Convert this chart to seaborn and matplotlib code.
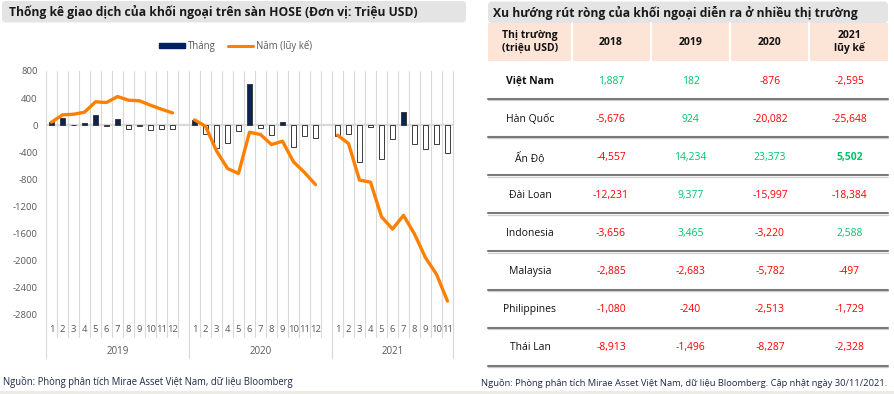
import numpy as np
import pandas as pd
import matplotlib
matplotlib.use("Agg")
import matplotlib.pyplot as plt
import matplotlib.transforms as mtransforms
from matplotlib.patches import Rectangle, FancyBboxPatch
from matplotlib.lines import Line2D
import seaborn as sns

# ---------------- data ----------------
years = ["2019", "2020", "2021"]
months_2019 = list(range(1, 13))
months_2020 = list(range(1, 13))
months_2021 = list(range(1, 12))
monthly_2019 = [50, 100, 8, 28, 155, -12, 88, -54, -12, -68, -59, -55]
monthly_2020 = [74, -128, -334, -260, -79, 609, -34, -147, 44, -319, -162, -182]
monthly_2021 = [-152, -132, -540, -29, -496, -196, 201, -275, -349, -270, -403]
cumul_2019 = [45, 153, 162, 192, 345, 335, 423, 369, 360, 295, 236, 182]
cumul_2020 = [79, -15, -378, -638, -712, -103, -137, -285, -236, -540, -697, -876]
cumul_2021 = [-147, -270, -810, -840, -1350, -1532, -1330, -1605, -1954, -2200, -2595]
yticks = list(range(-2800, 801, 400))

markets = ["Việt Nam", "Hàn Quốc", "Ấn Độ", "Đài Loan", "Indonesia",
           "Malaysia", "Philippines", "Thái Lan"]
val_2018 = [1887, -5676, -4557, -12231, -3656, -2885, -1080, -8913]
val_2019 = [182, 924, 14234, 9377, 3465, -2683, -240, -1496]
val_2020 = [-876, -20082, 23373, -15997, -3220, -5782, -2513, -8287]
val_2021 = [-2595, -25648, 5502, -18384, 2588, -497, -1729, -2328]
headers = ["Thị trường\n(triệu USD)", "2018", "2019", "2020", "2021\nlũy kế"]

# ---------------- style ----------------
sns.set_theme(style="white")
plt.rcParams["font.family"] = ["Open Sans", "DejaVu Sans"]

NAVY = "#002060"
ORANGE = "#ff7f00"
GRID = "#d9d9d9"
LBL = "#595959"
GREEN = "#00c26b"
RED = "#ff0000"

W, H = 895, 394
fig = plt.figure(figsize=(W / 100, H / 100), dpi=100)

# chart area in pixel terms
L, R, T, B = 46, 453, 71, 315
ax = fig.add_axes([L / W, 1 - B / H, (R - L) / W, (B - T) / H])

# build frame: one empty slot between years
rows = []
start = 0
for yr, mths, mv, cv in [("2019", months_2019, monthly_2019, cumul_2019),
                         ("2020", months_2020, monthly_2020, cumul_2020),
                         ("2021", months_2021, monthly_2021, cumul_2021)]:
    for i, (m, v, c) in enumerate(zip(mths, mv, cv)):
        rows.append(dict(pos=start + i, month=str(m), year=yr, monthly=v, cumul=c,
                         sign="pos" if v >= 0 else "neg"))
    start += len(mths) + 1
df = pd.DataFrame(rows)

sns.barplot(data=df, x="pos", y="monthly", hue="sign", native_scale=True,
            palette={"pos": NAVY, "neg": "white"}, dodge=False, width=0.38,
            edgecolor="#3a3a3a", linewidth=0.7, legend=False, ax=ax, zorder=3)
sns.lineplot(data=df, x="pos", y="cumul", units="year", estimator=None,
             color=ORANGE, lw=2.4, ax=ax, legend=False, zorder=4)

ax.set_xlim(-0.5, 36.5)
ax.set_ylim(-2800, 800)
ax.axhline(0, color=GRID, lw=1.6, zorder=1)
for s in ax.spines.values():
    s.set_visible(False)
ax.set_xlabel("")
ax.set_ylabel("")
ax.set_yticks(yticks)
ax.set_yticklabels([str(v) for v in yticks])
ax.set_xticks(df["pos"].tolist())
ax.set_xticklabels(df["month"].tolist())
ax.tick_params(axis="y", length=0, pad=6, labelsize=6.8, labelcolor=LBL)
ax.tick_params(axis="x", length=0, pad=7.5, labelsize=6.8, labelcolor=LBL)
ax.grid(False)

trans = mtransforms.blended_transform_factory(ax.transData, ax.transAxes)
ph = B - T
seps = [-0.5, 12.5, 25.5, 36.5]
for b in np.arange(-0.5, 37, 1.0):
    low = -43 / ph if b in seps else -22 / ph
    ax.plot([b, b], [1, low], transform=trans, color=GRID, lw=0.8,
            clip_on=False, zorder=0)
for yr in years:
    sub = df[df["year"] == yr]["pos"]
    ctr = (sub.min() + sub.max()) / 2 + (0.5 if yr != "2021" else 0)
    ax.text(ctr, -37 / ph, yr, transform=trans, ha="center", va="center",
            fontsize=7.0, color=LBL)

handles = [Rectangle((0, 0), 1, 1, facecolor=NAVY, edgecolor=NAVY),
           Line2D([0], [0], color=ORANGE, lw=2.2)]
fig.legend(handles, ["Tháng", "Năm (lũy kế)"], loc="center",
           bbox_to_anchor=(236 / W, 1 - 46 / H), ncol=2, frameon=False,
           fontsize=6.9, handlelength=2.7, handleheight=0.5, handletextpad=0.3,
           columnspacing=1.2, labelcolor=LBL)

# ---------------- overlay (pixel coordinates) ----------------
ov = fig.add_axes([0, 0, 1, 1], zorder=-1)
ov.set_xlim(0, W)
ov.set_ylim(H, 0)
ov.axis("off")

ov.add_patch(FancyBboxPatch((2, 1), 464, 21.5, boxstyle="round,pad=0,rounding_size=4",
                            facecolor="#e4e4e4", edgecolor="none"))
ov.text(9, 12, "Thống kê giao dịch của khối ngoại trên sàn HOSE (Đơn vị: Triệu USD)",
        fontsize=8.75, fontweight="bold", color="#1a1a1a", va="center", ha="left")
ov.add_patch(FancyBboxPatch((488, 1.5), 400, 21.5, boxstyle="round,pad=0,rounding_size=4",
                            facecolor="#e4e4e4", edgecolor="none"))
ov.text(493, 12.5, "Xu hướng rút ròng của khối ngoại diễn ra ở nhiều thị trường",
        fontsize=8.75, fontweight="bold", color="#1a1a1a", va="center", ha="left")

# table
ov.add_patch(Rectangle((488, 23.3), 400, 37.7, facecolor="#fce4d6", edgecolor="none"))
for xs in [571.7, 650.7, 730, 809.3]:
    ov.plot([xs, xs], [23.3, 61], color="white", lw=1.6)
col_x = [530, 611, 690.5, 770, 849.5]
for cx, h in zip(col_x, headers):
    ov.text(cx, 42, h, fontsize=7.5, fontweight="bold", color="#111111",
            ha="center", va="center", linespacing=1.2)

row_h = 38.1
for k, mk in enumerate(markets):
    cy = 81 + row_h * k
    ov.text(col_x[0], cy, mk, fontsize=7.5, color="#111111", ha="center", va="center",
            fontweight="bold" if k == 0 else "normal")
    for j, vals in enumerate([val_2018, val_2019, val_2020, val_2021]):
        v = vals[k]
        bold = (j == 3 and k == 2)
        ov.text(col_x[j + 1], cy, f"{v:,}", fontsize=7.5, ha="center", va="center",
                color=GREEN if v > 0 else RED, fontweight="bold" if bold else "normal")
    ly = 99 + row_h * k
    ov.plot([488, 888], [ly + 1.3, ly + 1.3], color="#cfcfcf", lw=0.9)
    ov.plot([488, 888], [ly, ly], color="#7a7a7a", lw=1.5)

ov.text(3, 382, "Nguồn: Phòng phân tích Mirae Asset Việt Nam, dữ liệu Bloomberg",
        fontsize=6.85, color="#1f2a44", ha="left", va="center")
ov.text(481, 383, "Nguồn: Phòng phân tích Mirae Asset Việt Nam, dữ liệu Bloomberg. Cập nhật ngày 30/11/2021.",
        fontsize=6.75, color="#1f2a44", ha="left", va="center")
ov.add_patch(Rectangle((0, 391), W, 3, facecolor="#eeeae6", edgecolor="none"))

fig.savefig("out.png", dpi=100)
